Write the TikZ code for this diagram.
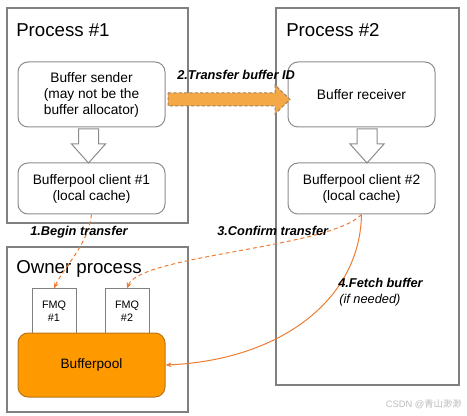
\documentclass[tikz,border=0pt]{standalone}
\usepackage{fontspec}
\setmainfont{Liberation Sans}
\newfontfamily\cjk{Noto Sans CJK SC}
\usetikzlibrary{arrows.meta}
\definecolor{procgray}{HTML}{808080}
\definecolor{roundgray}{HTML}{8C8C8C}
\definecolor{poolfill}{HTML}{FF9900}
\definecolor{poolline}{HTML}{B8781E}
\definecolor{bigfill}{HTML}{F5A946}
\definecolor{bigline}{HTML}{A4825A}
\definecolor{conn}{HTML}{ED7D31}
\definecolor{wm}{HTML}{BDBDBD}
\begin{document}
\begin{tikzpicture}[x=0.75pt,y=-0.75pt,
  procbox/.style={draw=procgray, line width=0.8pt, fill=white, inner sep=0pt},
  roundbox/.style={draw=roundgray, line width=0.75pt, fill=white, rounded corners=7.5pt,
     minimum width=110.25pt, align=center, font=\fontsize{10.3}{12}\selectfont, inner sep=0pt},
  fmqbox/.style={draw=procgray, line width=0.75pt, fill=white, minimum width=33pt,
     minimum height=33pt, align=center, font=\fontsize{8.1}{10}\selectfont, inner sep=0pt},
  poolbox/.style={draw=poolline, line width=0.75pt, fill=poolfill, rounded corners=7.5pt,
     minimum width=110.25pt, minimum height=48pt, font=\fontsize{10.2}{12}\selectfont, inner sep=0pt},
  titletext/.style={anchor=base west, inner sep=0pt, font=\fontsize{14}{16}\selectfont},
  steplabel/.style={anchor=base west, inner sep=0pt, font=\fontsize{9.6}{11.5}\selectfont\bfseries\itshape},
  hollow/.style={draw=roundgray, line width=0.75pt, fill=white},
  connline/.style={draw=conn, line width=0.75pt, -{Stealth[length=4.5pt,width=3.5pt]}},
  dashline/.style={connline, dash pattern=on 3pt off 2.2pt}
]
\useasboundingbox[fill=white] (0,0) rectangle (467,416);

% process boxes
\node[procbox, minimum width=135.75pt, minimum height=161.25pt] (p1) at (97.5,115.5) {};
\node[procbox, minimum width=137.25pt, minimum height=282.75pt] (p2) at (367.5,196.5) {};
\node[procbox, minimum width=135.75pt, minimum height=123.75pt] (own) at (97.5,329.5) {};

\node[titletext] (t1) at (16,37) {Process \#1};
\node[titletext] (t2) at (286,37) {Process \#2};
\node[titletext] (t3) at (16,274) {Owner process};

% inner boxes
\node[roundbox, minimum height=48.75pt] (sender) at (91.5,94.5) {Buffer sender\\(may not be the\\buffer allocator)};
\node[roundbox, minimum height=38.25pt] (client1) at (91.5,188.5) {Bufferpool client \#1\\(local cache)};
\node[roundbox, minimum height=48.75pt] (receiver) at (361.5,94.5) {Buffer receiver};
\node[roundbox, minimum height=38.25pt] (client2) at (361.5,188.5) {Bufferpool client \#2\\(local cache)};

% hollow arrows
\draw[hollow] (78.5,129) -- (98.5,129) -- (98.5,144) -- (105.5,144) -- (88.5,163)
   -- (71.5,144) -- (78.5,144) -- cycle;
\draw[hollow] (357,129) -- (377,129) -- (377,144) -- (384,144) -- (367,163)
   -- (350,144) -- (357,144) -- cycle;

% FMQ boxes and bufferpool
\node[fmqbox] (fmq1) at (54,311) {FMQ\\\#1};
\node[fmqbox] (fmq2) at (127,311) {FMQ\\\#2};
\node[poolbox] (pool) at (91.5,365) {Bufferpool};

% big transfer arrow
\draw[draw=bigline, fill=bigfill, line width=0.75pt, dash pattern=on 2.5pt off 1.5pt]
  (168,93) -- (275,93) -- (275,85) -- (290,99.5) -- (275,114) -- (275,106) -- (168,106) -- cycle;
\node[steplabel] (l2) at (177,80) {2.Transfer buffer ID};

% connectors
\draw[dashline] (client1.south) .. controls (88,245) and (65,265) .. (fmq1.north);
\draw[dashline] (client2.south) .. controls (330,248) and (140,255) .. (fmq2.north);
\draw[connline] (client2.south) .. controls (360,300) and (280,360) .. (pool.east);

\node[steplabel] (l1) at (30,236) {1.Begin transfer};
\node[steplabel] (l3) at (217,236) {3.Confirm transfer};
\node[steplabel] (l4) at (338,287) {4.Fetch buffer};
\node[anchor=base west, inner sep=0pt, font=\fontsize{9.6}{11.5}\selectfont\itshape] (l4b) at (339,304) {(if needed)};

% watermark
\node[anchor=base east, inner sep=0pt, text=wm, font=\fontsize{7}{8}\selectfont] (wmk) at (462,407) {CSDN @{\cjk 青山渺渺}};
\end{tikzpicture}
\end{document}
